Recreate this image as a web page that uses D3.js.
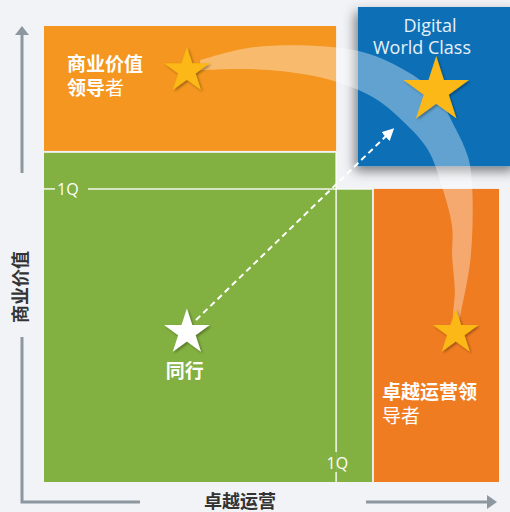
<!DOCTYPE html>
<html lang="zh">
<head>
  <meta charset="UTF-8" />
  <script src="https://d3js.org/d3.v7.min.js"></script>
  <title>Digital World Class</title>
  <style>
    body { margin: 0; background: #f1f3f7; }
    svg { display: block; }
  </style>
</head>
<body>
<script type="text/javascript">
	var width = 510; var height = 512;
	var cjk = "'Noto Sans CJK SC', sans-serif";

	// quadrant blocks, in chart units (0..100 on both axes)
	var regionNames = ["商业价值领导者", "同行", "同行", "卓越运营领导者", "Digital World Class"];
	var regionX0 = [0, 0, 64.2, 72.5, 69.0];
	var regionX1 = [64.2, 64.2, 72.1, 100, 104];
	var regionY0 = [69.7, 0, 0, 0, 66.5];
	var regionY1 = [96.0, 69.3, 61.7, 61.7, 100];
	var regionColor = ["#f4961f", "#82b041", "#82b041", "#f07c22", "#0d70b7"];

	// first-quartile marks
	var q1X = 64.2, q1Y = 61.7;
	var q1Label = "1Q";

	// stars
	var starNames = ["商业价值领导者", "Digital World Class", "卓越运营领导者", "同行"];
	var starX = [31.4, 86.2, 90.5, 31.4];
	var starY = [86.6, 82.4, 31.5, 31.5];
	var starR = [24, 34.5, 24, 24];
	var starColor = ["#fbb812", "#fbb812", "#fbb812", "#ffffff"];

	// peers -> digital dashed arrow
	var arrowX = [33.4, 76.0];
	var arrowY = [34.1, 73.6];

	// translucent path from the two leaders through Digital World Class
	var bandOuterX = [34.3, 46.4, 68.4, 79.3, 85.9, 90.3, 93.2, 94.1, 93.8, 91.9, 91.0];
	var bandOuterY = [88.8, 91.6, 90.9, 86.7, 81.9, 74.7, 68.4, 62.1, 47.6, 37.1, 33.7];
	var bandInnerX = [90.1, 90.3, 89.7, 89.7, 87.5, 84.4, 79.3, 72.1, 61.1, 46.4, 34.3];
	var bandInnerY = [33.7, 40.4, 47.6, 53.7, 62.1, 69.9, 75.6, 81.1, 85.1, 86.9, 86.7];

	var axisXTitle = "卓越运营";
	var axisYTitle = "商业价值";

	var x = d3.scaleLinear().domain([0, 100]).range([44, 499]);
	var y = d3.scaleLinear().domain([0, 100]).range([482, 7]);

	var svg = d3.select("body").append("svg").attr("width", width).attr("height", height);
	svg.append("rect").attr("width", width).attr("height", height).attr("fill", "#f1f3f7");

	var defs = svg.append("defs");
	defs.append("filter").attr("id", "boxShadow").attr("x", "-30%").attr("y", "-30%").attr("width", "160%").attr("height", "160%")
		.append("feDropShadow").attr("dx", -3).attr("dy", 5).attr("stdDeviation", 6)
		.attr("flood-color", "#000").attr("flood-opacity", 0.5);
	defs.append("filter").attr("id", "starShadow").attr("x", "-30%").attr("y", "-30%").attr("width", "160%").attr("height", "160%")
		.append("feDropShadow").attr("dx", 1.5).attr("dy", 1.5).attr("stdDeviation", 1.2)
		.attr("flood-color", "#000").attr("flood-opacity", 0.35);
	defs.append("marker").attr("id", "head").attr("viewBox", "0 0 10 10").attr("refX", 5).attr("refY", 5)
		.attr("markerWidth", 6).attr("markerHeight", 6).attr("markerUnits", "strokeWidth").attr("orient", "auto")
		.append("path").attr("d", "M0,0L10,5L0,10Z").attr("fill", "#fff");

	// blocks
	svg.selectAll("rect.region").data(regionNames).enter().append("rect")
		.attr("class", "region")
		.attr("x", function(d, i){return x(regionX0[i]);})
		.attr("y", function(d, i){return y(regionY1[i]);})
		.attr("width", function(d, i){return x(regionX1[i]) - x(regionX0[i]);})
		.attr("height", function(d, i){return y(regionY0[i]) - y(regionY1[i]);})
		.attr("fill", function(d, i){return regionColor[i];})
		.attr("filter", function(d, i){return i == 4 ? "url(#boxShadow)" : null;});

	// 1Q lines
	var q1 = svg.append("g").attr("stroke", "#fff").attr("stroke-opacity", 0.9).attr("stroke-width", 1.5);
	q1.append("line").attr("x1", x(0)).attr("x2", x(0) + 11).attr("y1", y(q1Y)).attr("y2", y(q1Y));
	q1.append("line").attr("x1", x(0) + 44).attr("x2", x(regionX1[2])).attr("y1", y(q1Y)).attr("y2", y(q1Y));
	q1.append("line").attr("x1", x(q1X)).attr("x2", x(q1X)).attr("y1", y(regionY1[1])).attr("y2", y(0) - 30);
	q1.append("line").attr("x1", x(q1X)).attr("x2", x(q1X)).attr("y1", y(0) - 10).attr("y2", y(0));
	svg.append("text").attr("x", x(0) + 13).attr("y", y(q1Y) + 6).text(q1Label)
		.attr("fill", "#fff").attr("font-family", "'Open Sans', sans-serif").attr("font-size", 16);
	svg.append("text").attr("x", x(q1X) + 12).attr("y", y(0) - 13).attr("text-anchor", "end").text(q1Label)
		.attr("fill", "#fff").attr("font-family", "'Open Sans', sans-serif").attr("font-size", 16);

	// band
	var bandPts = bandOuterX.map(function(v, i){return [v, bandOuterY[i]];})
		.concat(bandInnerX.map(function(v, i){return [v, bandInnerY[i]];}));
	var band = d3.line().x(function(d){return x(d[0]);}).y(function(d){return y(d[1]);}).curve(d3.curveCatmullRom);
	svg.append("path").attr("d", band(bandPts) + "Z").attr("fill", "#fff").attr("fill-opacity", 0.35);

	// dashed arrow
	svg.append("line")
		.attr("x1", x(arrowX[0])).attr("y1", y(arrowY[0])).attr("x2", x(arrowX[1])).attr("y2", y(arrowY[1]))
		.attr("stroke", "#fff").attr("stroke-width", 2).attr("stroke-dasharray", "6,4")
		.attr("marker-end", "url(#head)");

	// stars
	var star = d3.symbol().type(d3.symbolStar);
	svg.selectAll("path.star").data(starNames).enter().append("path")
		.attr("class", "star")
		.attr("d", function(d, i){return star.size(starR[i] * starR[i] / 0.8908130915292852)();})
		.attr("transform", function(d, i){return "translate(" + x(starX[i]) + "," + y(starY[i]) + ")";})
		.attr("fill", function(d, i){return starColor[i];})
		.attr("filter", "url(#starShadow)");

	// quadrant labels
	var t1 = svg.append("text").attr("x", 67).attr("y", 71).attr("fill", "#fff").attr("font-family", cjk).attr("font-size", 19);
	t1.append("tspan").attr("font-weight", "bold").text("商业价值");
	var t1b = svg.append("text").attr("x", 67).attr("y", 95).attr("fill", "#fff").attr("font-family", cjk).attr("font-size", 19);
	t1b.append("tspan").attr("font-weight", "bold").text("领导");
	t1b.append("tspan").text("者");

	var t2 = svg.append("text").attr("x", 382).attr("y", 399).attr("fill", "#fff").attr("font-family", cjk).attr("font-size", 19);
	t2.append("tspan").attr("font-weight", "bold").text("卓越运营领");
	svg.append("text").attr("x", 382).attr("y", 423).attr("fill", "#fff").attr("font-family", cjk).attr("font-size", 19).text("导者");

	svg.append("text").attr("x", x(starX[3]) - 2).attr("y", 378).attr("text-anchor", "middle").attr("fill", "#fff")
		.attr("font-family", cjk).attr("font-size", 19).attr("font-weight", "bold").text("同行");

	svg.append("text").attr("x", 430).attr("y", 32).attr("text-anchor", "middle").attr("fill", "#e8f0f8")
		.attr("font-family", "'Open Sans', sans-serif").attr("font-size", 18).text("Digital");
	svg.append("text").attr("x", 422).attr("y", 54).attr("text-anchor", "middle").attr("fill", "#e8f0f8")
		.attr("font-family", "'Open Sans', sans-serif").attr("font-size", 18).text("World Class");

	// axes
	var ax = svg.append("g").attr("stroke", "#8d979f").attr("stroke-width", 3).attr("fill", "none");
	ax.append("path").attr("d", "M22,173V34");
	ax.append("path").attr("d", "M22,337V502H140");
	ax.append("path").attr("d", "M366,502H488");
	svg.append("path").attr("d", "M22,26L29,35H15Z").attr("fill", "#8d979f");
	svg.append("path").attr("d", "M497,502L487,495V509Z").attr("fill", "#8d979f");

	svg.append("text").attr("transform", "translate(27,287) rotate(-90)").attr("text-anchor", "middle")
		.attr("fill", "#333").attr("font-family", cjk).attr("font-size", 18).attr("font-weight", "bold").text(axisYTitle);
	svg.append("text").attr("x", 240).attr("y", 508).attr("text-anchor", "middle")
		.attr("fill", "#333").attr("font-family", cjk).attr("font-size", 18).attr("font-weight", "bold").text(axisXTitle);
</script>
</body>
</html>
